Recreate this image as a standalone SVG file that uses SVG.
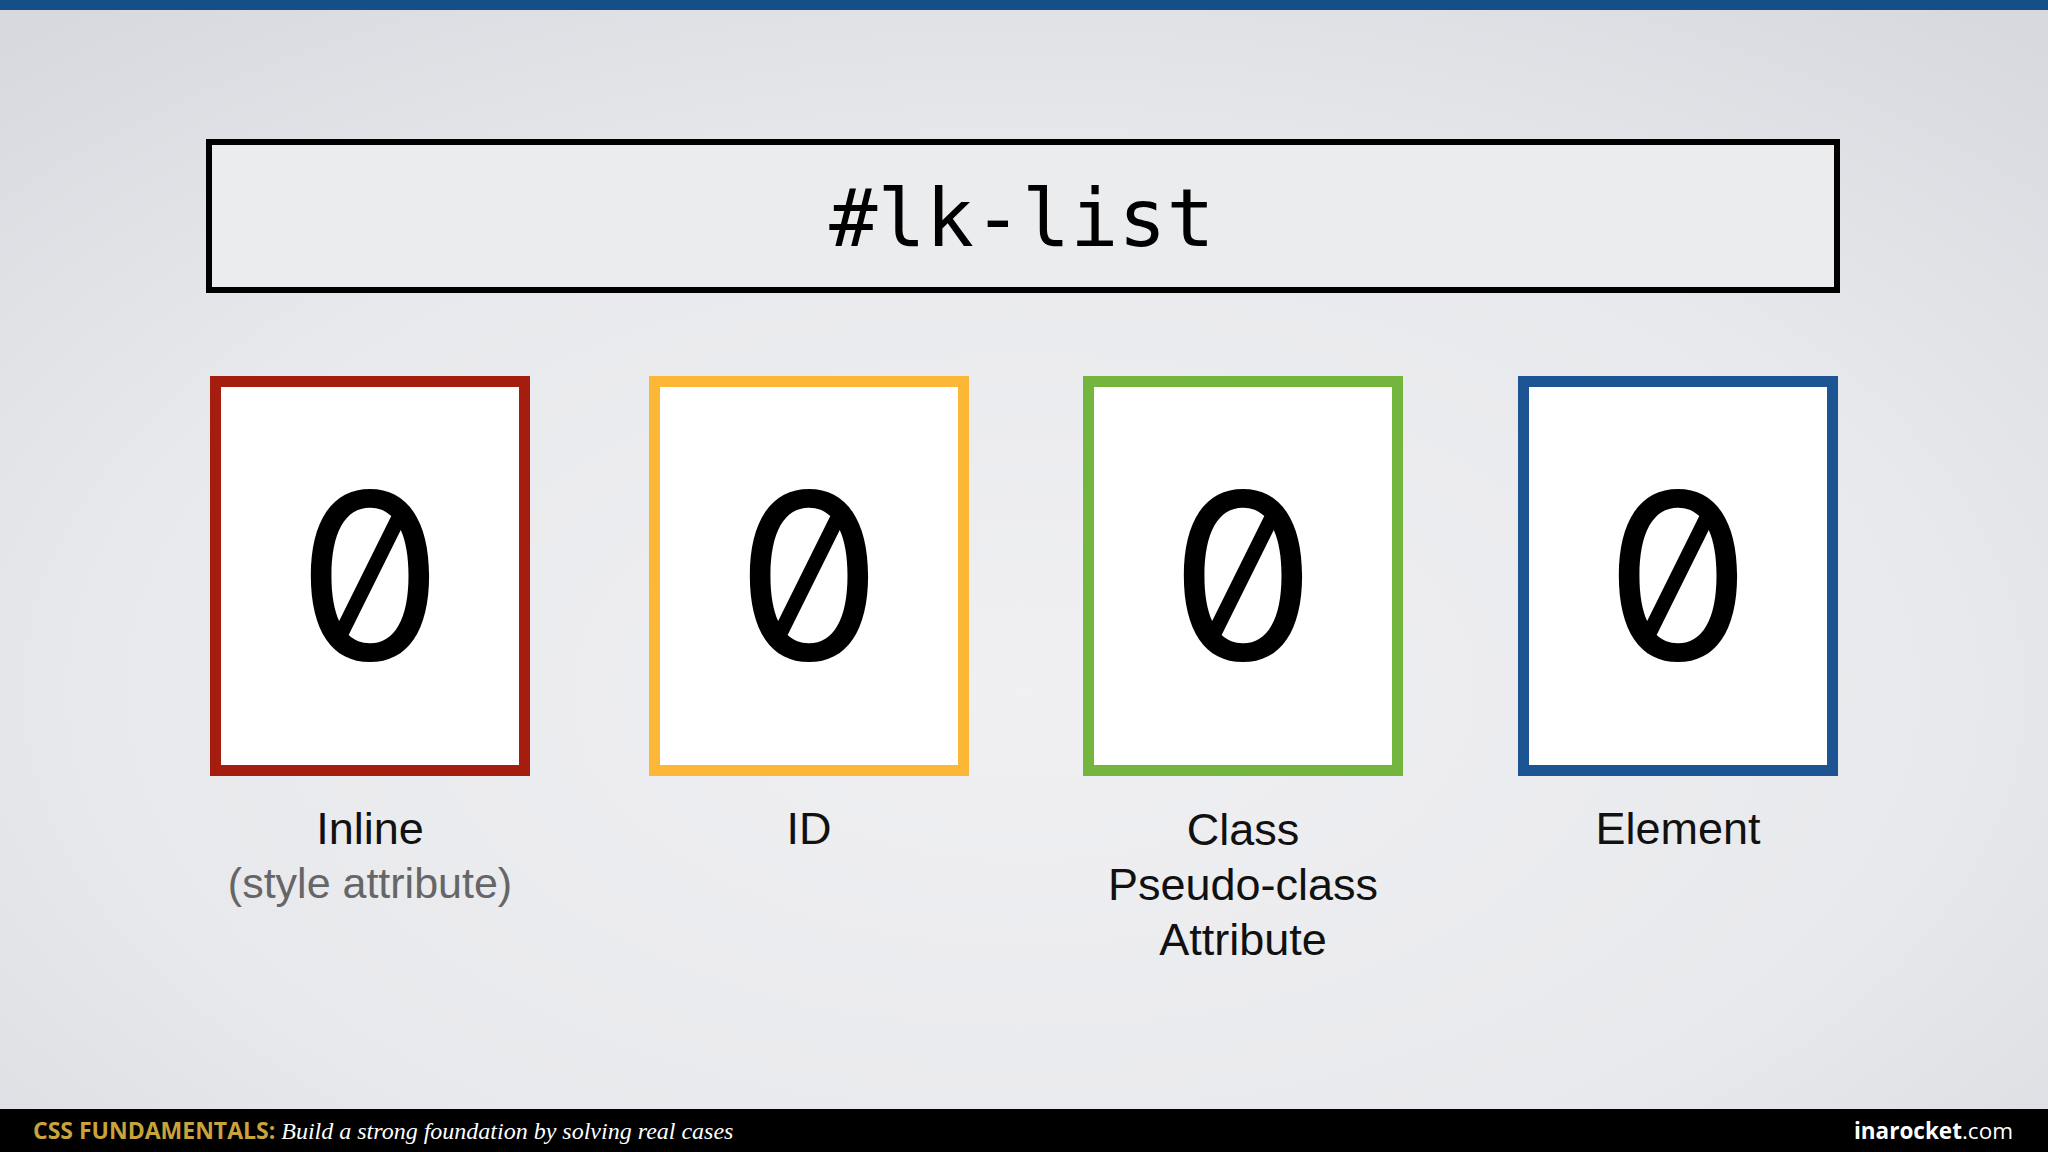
<svg xmlns="http://www.w3.org/2000/svg" width="2048" height="1152" viewBox="0 0 2048 1152">
  <defs>
    <radialGradient id="bg" cx="50%" cy="60%" r="75%">
      <stop offset="0" stop-color="#f0f0f3"/>
      <stop offset="0.6" stop-color="#e8e9ec"/>
      <stop offset="1" stop-color="#d7d9df"/>
    </radialGradient>
  </defs>
  <style>
    .box { fill: #ffffff; stroke-width: 11; }
    .zero { font-family: Inter, "DejaVu Sans", sans-serif; font-feature-settings: "zero" 1, "tnum" 1; font-size: 232px; font-weight: 400; fill: #000; text-anchor: middle; }
    .lbl { font-family: "Liberation Sans", Arial, sans-serif; font-size: 45px; fill: #111; text-anchor: middle; }
    .sub { fill: #666; font-size: 43px; }
  </style>
  <rect x="0" y="0" width="2048" height="1152" fill="url(#bg)"/>
  <rect x="0" y="0" width="2048" height="10" fill="#164e87"/>

  <g id="title">
    <rect x="209" y="142" width="1628" height="148" fill="#ebecee" stroke="#000" stroke-width="6"/>
    <text x="1022" y="246" font-family="DejaVu Sans Mono, monospace" font-size="80" fill="#000" text-anchor="middle">#lk-list</text>
  </g>

  <g id="inline">
    <rect class="box" x="215.5" y="381.5" width="309" height="389" stroke="#a51d0e"/>
    <text class="zero" x="370" y="660">0</text>
    <text class="lbl" x="370" y="844">Inline</text>
    <text class="lbl sub" x="370" y="898">(style attribute)</text>
  </g>

  <g id="id">
    <rect class="box" x="654.5" y="381.5" width="309" height="389" stroke="#fbb735"/>
    <text class="zero" x="809" y="660">0</text>
    <text class="lbl" x="809" y="844">ID</text>
  </g>

  <g id="class">
    <rect class="box" x="1088.5" y="381.5" width="309" height="389" stroke="#74b53d"/>
    <text class="zero" x="1243" y="660">0</text>
    <text class="lbl" x="1243" y="845">Class</text>
    <text class="lbl" x="1243" y="900">Pseudo-class</text>
    <text class="lbl" x="1243" y="955">Attribute</text>
  </g>

  <g id="element">
    <rect class="box" x="1523.5" y="381.5" width="309" height="389" stroke="#1c5592"/>
    <text class="zero" x="1678" y="660">0</text>
    <text class="lbl" x="1678" y="844">Element</text>
  </g>

  <g id="connectors"></g>

  <g id="footer">
    <rect x="0" y="1109" width="2048" height="43" fill="#000"/>
    <text x="33" y="1139"><tspan font-family="Open Sans, Liberation Sans, sans-serif" font-weight="bold" font-size="23" fill="#c9a33b">CSS FUNDAMENTALS:</tspan><tspan font-family="Liberation Serif, serif" font-style="italic" fill="#ffffff" font-size="24"> Build a strong foundation by solving real cases</tspan></text>
    <text x="2013" y="1139" font-size="22.5" fill="#ffffff" text-anchor="end" font-family="Open Sans, Liberation Sans, sans-serif"><tspan font-weight="bold">inarocket</tspan><tspan>.com</tspan></text>
  </g>
</svg>
